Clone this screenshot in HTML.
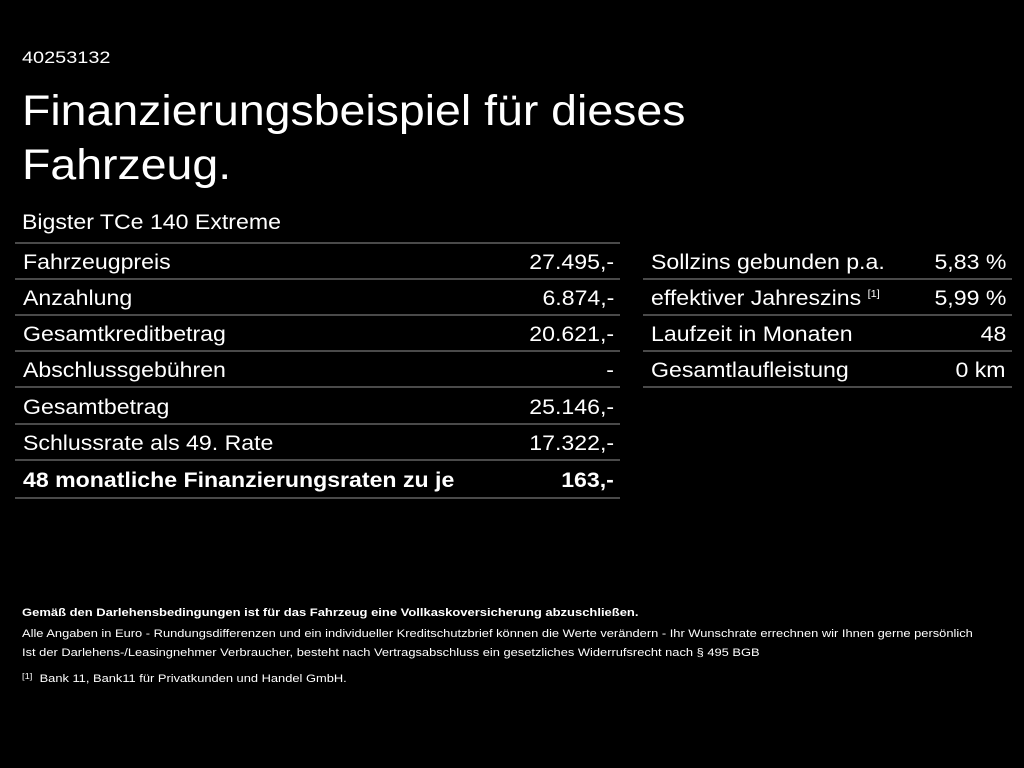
<!DOCTYPE html>
<html><head><meta charset="utf-8"><style>
body{margin:0;width:1024px;height:768px;background:#000;color:#fff;font-family:"Liberation Sans",sans-serif;position:relative;overflow:hidden}
.a{position:absolute;white-space:nowrap;transform-origin:left top}
.row{position:absolute;height:36px;border-bottom:2px solid #4a4a4a;font-size:21px;line-height:38px;box-sizing:border-box;padding-left:8px;white-space:nowrap}
.row .l{display:inline-block;transform:scaleX(1.1);transform-origin:left center}
.row span.r{position:absolute;right:6px;top:0;transform:scaleX(1.1);transform-origin:right center}
.f{font-size:11px;color:#fff;transform:scaleX(1.17)}
sup{font-size:10px;position:relative;top:-8px;vertical-align:baseline}
</style></head><body>
<div class="a" style="left:22px;top:48px;font-size:17px;transform:scaleX(1.17)">40253132</div>
<div class="a" style="left:22px;top:84px;font-size:43px;line-height:54px;transform:scaleX(1.08)">Finanzierungsbeispiel für dieses<br>Fahrzeug.</div>
<div class="a" style="left:22px;top:211px;font-size:21px;transform:scaleX(1.1)">Bigster TCe 140 Extreme</div>
<div style="position:absolute;left:15px;top:242px;width:605px;border-top:2px solid #4a4a4a"></div>
<div class="row" style="left:15px;top:244px;width:605px"><span class="l">Fahrzeugpreis</span><span class="r">27.495,-</span></div>
<div class="row" style="left:15px;top:280px;width:605px"><span class="l">Anzahlung</span><span class="r">6.874,-</span></div>
<div class="row" style="left:15px;top:316px;width:605px"><span class="l">Gesamtkreditbetrag</span><span class="r">20.621,-</span></div>
<div class="row" style="left:15px;top:352px;width:605px"><span class="l">Abschlussgebühren</span><span class="r">-</span></div>
<div class="row" style="left:15px;top:389px;width:605px"><span class="l">Gesamtbetrag</span><span class="r">25.146,-</span></div>
<div class="row" style="left:15px;top:425px;width:605px"><span class="l">Schlussrate als 49. Rate</span><span class="r">17.322,-</span></div>
<div class="row" style="left:15px;top:462px;width:605px;font-weight:bold;height:37px"><span class="l">48 monatliche Finanzierungsraten zu je</span><span class="r">163,-</span></div>
<div class="row" style="left:643px;top:244px;width:369px"><span class="l">Sollzins gebunden p.a.</span><span class="r">5,83 %</span></div>
<div class="row" style="left:643px;top:280px;width:369px"><span class="l">effektiver Jahreszins <sup>[1]</sup></span><span class="r">5,99 %</span></div>
<div class="row" style="left:643px;top:316px;width:369px"><span class="l">Laufzeit in Monaten</span><span class="r">48</span></div>
<div class="row" style="left:643px;top:352px;width:369px"><span class="l">Gesamtlaufleistung</span><span class="r">0 km</span></div>
<div class="a f" style="left:22px;top:607px;font-weight:bold;transform:scaleX(1.18)">Gemäß den Darlehensbedingungen ist für das Fahrzeug eine Vollkaskoversicherung abzuschließen.</div>
<div class="a f" style="left:22px;top:628px">Alle Angaben in Euro - Rundungsdifferenzen und ein individueller Kreditschutzbrief können die Werte verändern - Ihr Wunschrate errechnen wir Ihnen gerne persönlich</div>
<div class="a f" style="left:22px;top:647px">Ist der Darlehens-/Leasingnehmer Verbraucher, besteht nach Vertragsabschluss ein gesetzliches Widerrufsrecht nach § 495 BGB</div>
<div class="a f" style="left:22px;top:672px"><span style="font-size:8px;vertical-align:3px">[1]</span>&nbsp; Bank 11, Bank11 für Privatkunden und Handel GmbH.</div>
</body></html>
